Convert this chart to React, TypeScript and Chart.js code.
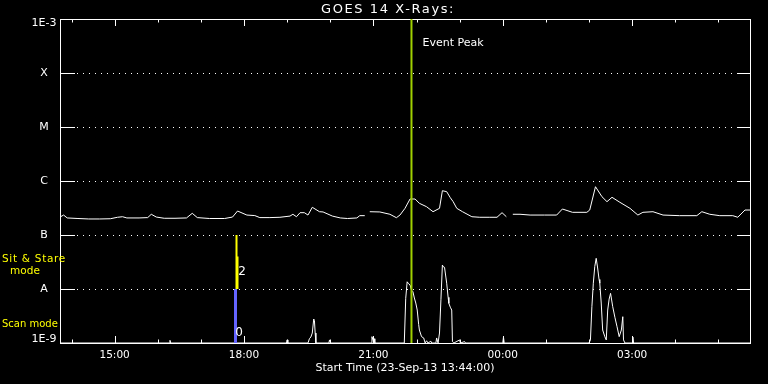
import React, { useEffect, useRef } from "react";
import { Chart, registerables } from "chart.js";

Chart.register(...registerables);

// minutes after start time 13:44:00
const longTimes = [0,5,10,25,40,55,70,80,87,93,110,122,127,134,145,160,176,184,191,208,229,240,247,260,271,278,292,306,320,324,329,334,340,345,351,361,366,379,390,400,413,417,424,427,431,445,459,468,473,480,487,494,500,510,519,528,532,538,543,547,552,560,573,584,598,608,615,621,625,630,640,654,674,691,699,713,733,737,745,754,761,768,779,793,804,811,825,839,862,886,893,904,918,936,943,953,960];
const longFlux = [2.15e-7,2.34e-7,2.07e-7,2.02e-7,1.98e-7,1.98e-7,2.0e-7,2.13e-7,2.18e-7,2.07e-7,2.07e-7,2.1e-7,2.42e-7,2.15e-7,2.04e-7,2.04e-7,2.07e-7,2.52e-7,2.1e-7,2.02e-7,2.02e-7,2.15e-7,2.78e-7,2.34e-7,2.29e-7,2.1e-7,2.1e-7,2.13e-7,2.24e-7,2.42e-7,2.18e-7,2.59e-7,2.59e-7,2.34e-7,3.26e-7,2.7e-7,2.67e-7,2.24e-7,2.07e-7,2.02e-7,2.07e-7,2.28e-7,2.28e-7,null,2.7e-7,2.67e-7,2.42e-7,2.09e-7,2.34e-7,3.12e-7,4.64e-7,4.64e-7,3.86e-7,3.34e-7,2.7e-7,3.12e-7,6.61e-7,6.34e-7,4.91e-7,4.14e-7,3.12e-7,2.7e-7,2.18e-7,2.13e-7,2.13e-7,2.13e-7,2.59e-7,2.18e-7,null,2.42e-7,2.42e-7,2.34e-7,2.34e-7,2.34e-7,3.03e-7,2.63e-7,2.63e-7,2.9e-7,7.84e-7,5.12e-7,4.14e-7,4.99e-7,4.03e-7,3.12e-7,2.34e-7,2.63e-7,2.7e-7,2.34e-7,2.28e-7,2.28e-7,2.7e-7,2.42e-7,2.28e-7,2.28e-7,2.13e-7,2.9e-7,2.9e-7];

const shortTimes = [0,152,153,154,315,316,317,345,347,349,351,353,354,355,356,374,375,376,433,434,436,437,438,479,481,483,485,487,489,491,493,495,497,499,500,503,506,508,510,512,516,517,523,524,526,528,530,532,533,535,537,538,540,541,543,545,546,548,556,557,563,564,616,617,618,736,738,740,742,744,746,748,750,751,753,755,758,760,762,764,766,769,772,775,778,781,783,784,786,796,797,798,960];
const shortFlux = [1e-9,1e-9,1.12e-9,1e-9,1e-9,1.14e-9,1e-9,1e-9,1.2e-9,1.29e-9,1.53e-9,2.78e-9,2.59e-9,1.53e-9,1e-9,1e-9,1.14e-9,1e-9,1e-9,1.31e-9,1.09e-9,1.2e-9,1e-9,1e-9,6.73e-9,1.36e-8,1.25e-8,1.19e-8,9.5e-9,8.91e-9,6.81e-9,5.5e-9,4.08e-9,2.2e-9,1.74e-9,1.31e-9,1.24e-9,1e-9,1.1e-9,1e-9,1.08e-9,1e-9,1e-9,1.24e-9,1e-9,1.53e-9,6.45e-9,2.78e-8,2.6e-8,2.52e-8,1.6e-8,1.28e-8,7e-9,5.43e-9,4.6e-9,4.08e-9,1.06e-9,1e-9,1.14e-9,1e-9,1.06e-9,1e-9,1e-9,1.29e-9,1e-9,1e-9,1.14e-9,4.7e-9,1.28e-8,2.6e-8,3.7e-8,2.45e-8,1.5e-8,1.28e-8,5.5e-9,1.74e-9,1.31e-9,1.14e-9,4.08e-9,6.5e-9,8.32e-9,4.7e-9,3e-9,2.0e-9,1.31e-9,1.74e-9,3.07e-9,1.14e-9,1e-9,1e-9,1.29e-9,1e-9,1e-9];

const xTickTimes = [16,76,136,196,256,316,376,436,496,556,616,676,736,796,856,916];
const xMajorTimes = [76,256,436,616,796];
const xMajorLabels = ["15:00","18:00","21:00","00:00","03:00"];
const yLevels = [1e-8,1e-7,1e-6,1e-5,1e-4];
const yLevelLabels = ["A","B","C","M","X"];
const yEndLabels = ["1E-9","1E-3"];
const eventPeakTime = 489;
const modeTime = 243;
const scanRange = [1e-9, 1e-8];
const sitStareRange = [1e-8, 1e-7];
const sitStarePatch = [1e-8, 4e-8];

const FONT = '"DejaVu Sans", "Liberation Sans", sans-serif';

const decoPlugin = {
  id: "goesDeco",
  beforeDraw(chart: any) {
    const ctx = chart.ctx;
    ctx.save();
    ctx.fillStyle = "#000";
    ctx.fillRect(0, 0, chart.width, chart.height);
    ctx.restore();
  },
  beforeDatasetsDraw(chart: any) {
    const ctx = chart.ctx;
    const { left, right } = chart.chartArea;
    const ys = chart.scales.y;
    ctx.save();
    ctx.strokeStyle = "#fff";
    ctx.lineWidth = 1;
    yLevels.forEach((v) => {
      const y = Math.round(ys.getPixelForValue(v)) + 0.5;
      ctx.setLineDash([1, 5]);
      ctx.beginPath();
      ctx.moveTo(left + 17, y);
      ctx.lineTo(right - 14, y);
      ctx.stroke();
    });
    ctx.restore();
  },
  afterDatasetsDraw(chart: any) {
    const ctx = chart.ctx;
    const { left, right, top, bottom } = chart.chartArea;
    const xs = chart.scales.x;
    const ys = chart.scales.y;
    ctx.save();
    ctx.strokeStyle = "#fff";
    ctx.lineWidth = 1;
    ctx.setLineDash([]);
    ctx.strokeRect(left + 0.5, top + 0.5, right - left, bottom - top);
    yLevels.forEach((v) => {
      const y = Math.round(ys.getPixelForValue(v)) + 0.5;
      ctx.beginPath();
      ctx.moveTo(left, y);
      ctx.lineTo(left + 15, y);
      ctx.moveTo(right, y);
      ctx.lineTo(right - 13, y);
      ctx.stroke();
    });
    xTickTimes.forEach((t) => {
      const x = Math.round(xs.getPixelForValue(t)) + 0.5;
      const len = xMajorTimes.includes(t) ? 7 : 3.5;
      ctx.beginPath();
      ctx.moveTo(x, top);
      ctx.lineTo(x, top + len);
      ctx.moveTo(x, bottom + 0.5);
      ctx.lineTo(x, bottom - len);
      ctx.stroke();
    });

    // mode bar
    const mx = Math.round(xs.getPixelForValue(modeTime));
    ctx.fillStyle = "#6464ff";
    const b0 = ys.getPixelForValue(scanRange[0]);
    const b1 = ys.getPixelForValue(scanRange[1]);
    ctx.fillRect(mx - 1, b1, 3, b0 - b1);
    ctx.fillStyle = "#ffff00";
    const s0 = ys.getPixelForValue(sitStareRange[0]);
    const s1 = ys.getPixelForValue(sitStareRange[1]);
    ctx.fillRect(mx + 0.5, s1, 2, s0 - s1);
    const p1 = ys.getPixelForValue(sitStarePatch[1]);
    ctx.fillRect(mx + 1.5, p1, 2, s0 - p1);

    // event peak line
    const ex = xs.getPixelForValue(eventPeakTime);
    ctx.strokeStyle = "#a0d000";
    ctx.lineWidth = 2;
    ctx.beginPath();
    ctx.moveTo(ex, top);
    ctx.lineTo(ex, bottom);
    ctx.stroke();

    // texts
    ctx.fillStyle = "#fff";
    ctx.textBaseline = "middle";
    ctx.textAlign = "left";
    ctx.font = `11px ${FONT}`;
    ctx.fillText("Event Peak", ex + 11, 43);

    ctx.font = `12px ${FONT}`;
    ctx.textAlign = "center";
    ctx.fillText("2", mx + 7, 272);
    ctx.fillText("0", mx + 4, 333);

    ctx.font = `13px ${FONT}`;
    (ctx as any).letterSpacing = "1.6px";
    ctx.fillText("GOES 14 X-Rays:", 388, 10);
    (ctx as any).letterSpacing = "0px";

    ctx.font = `10.5px ${FONT}`;
    xMajorTimes.forEach((t, i) => {
      ctx.fillText(xMajorLabels[i], xs.getPixelForValue(t), 355);
    });
    ctx.font = `11px ${FONT}`;
    ctx.fillText("Start Time (23-Sep-13 13:44:00)", (left + right) / 2, 368);

    yLevels.forEach((v, i) => {
      ctx.fillText(yLevelLabels[i], 44, ys.getPixelForValue(v) + 0.5);
    });
    ctx.fillText(yEndLabels[1], 44, ys.getPixelForValue(1e-3) + 4.5);
    ctx.fillText(yEndLabels[0], 44, ys.getPixelForValue(1e-9) - 4);

    // mode labels
    ctx.fillStyle = "#ffff00";
    ctx.textAlign = "left";
    ctx.font = `10.5px ${FONT}`;
    (ctx as any).letterSpacing = "0.7px";
    ctx.fillText("Sit & Stare", 2, 259);
    (ctx as any).letterSpacing = "0px";
    ctx.textAlign = "center";
    ctx.fillText("mode", 25, 271);
    ctx.textAlign = "left";
    ctx.font = `10px ${FONT}`;
    ctx.fillText("Scan mode", 2, 324);
    ctx.restore();
  },
};

export default function App() {
  const ref = useRef<HTMLCanvasElement | null>(null);
  useEffect(() => {
    document.body.style.margin = "0";
    document.body.style.background = "#000";
    const canvas = ref.current;
    if (!canvas) return;
    const longData = longTimes.map((t, i) => ({ x: t, y: longFlux[i] }));
    const shortData = shortTimes.map((t, i) => ({ x: t, y: shortFlux[i] }));
    const chart = new Chart(canvas, {
      type: "line",
      data: {
        datasets: [
          {
            label: "1.0-8.0 A",
            data: longData as any,
            borderColor: "#fff",
            borderWidth: 1,
            pointRadius: 0,
            tension: 0,
            spanGaps: false,
          },
          {
            label: "0.5-4.0 A",
            data: shortData as any,
            borderColor: "#fff",
            borderWidth: 1,
            pointRadius: 0,
            tension: 0,
          },
        ],
      },
      options: {
        animation: false,
        responsive: false,
        maintainAspectRatio: false,
        devicePixelRatio: 1,
        layout: { padding: { left: 60, top: 19, right: 18, bottom: 41 } },
        plugins: { legend: { display: false }, tooltip: { enabled: false }, title: { display: false } },
        scales: {
          x: { type: "linear", min: 0, max: 960, display: false },
          y: { type: "logarithmic", min: 1e-9, max: 1e-3, display: false },
        },
      },
      plugins: [decoPlugin],
    });
    return () => chart.destroy();
  }, []);
  return <canvas ref={ref} width={768} height={384} style={{ display: "block", width: 768, height: 384 }} />;
}
